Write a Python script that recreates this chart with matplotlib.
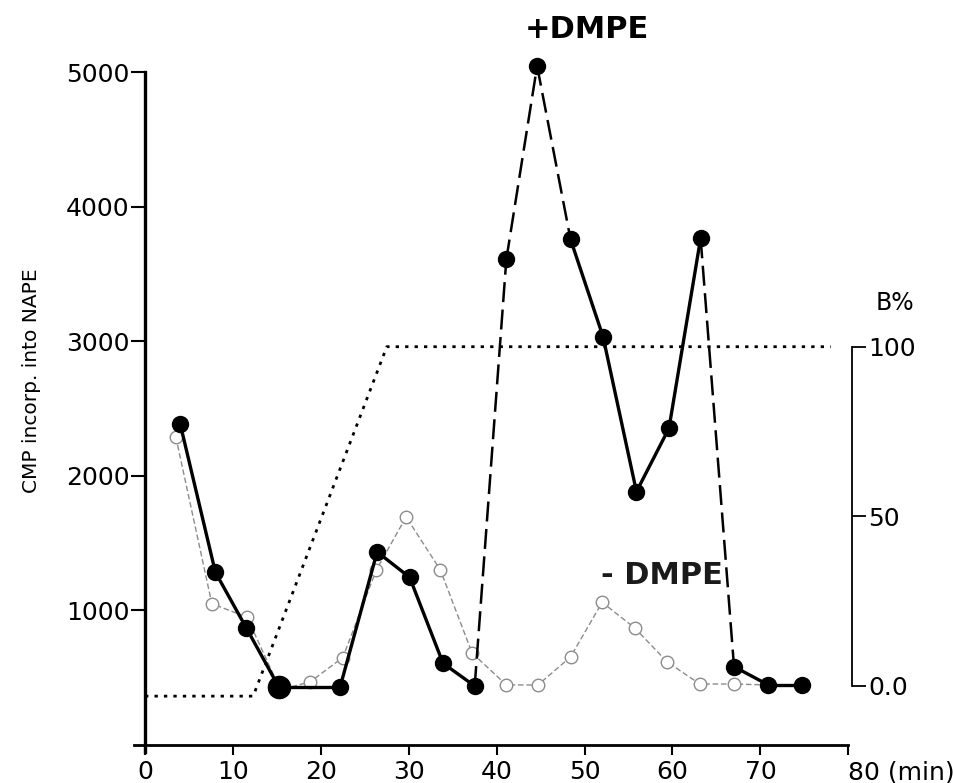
import matplotlib.pyplot as plt

# elution time (min) and CMP incorporated into NAPE
time_plus = [4.0, 8.0, 11.5, 15.2, 22.2, 26.4, 30.1, 33.9, 37.5, 41.1, 44.6,
             48.4, 52.1, 55.9, 59.6, 63.2, 67.0, 70.9, 74.7]
cmp_plus = [2386, 1284, 872, 433, 433, 1435, 1246, 607, 438, 3610, 5047,
            3759, 3035, 1883, 2354, 3766, 582, 446, 446]

time_minus = [3.5, 7.6, 11.6, 15.4, 18.8, 22.5, 26.3, 29.7, 33.6, 37.2, 41.1,
              44.7, 48.4, 52.0, 55.7, 59.4, 63.1, 67.0, 70.9, 74.5]
cmp_minus = [2290, 1050, 950, 409, 470, 650, 1300, 1695, 1300, 684, 446,
             446, 654, 1060, 870, 617, 453, 453, 446, 446]

# solvent B gradient (%)
grad_time = [0, 12.3, 27.5, 78]
grad_b = [-3, -3, 100, 100]

x_ticks = [0, 10, 20, 30, 40, 50, 60, 70, 80]
x_labels = ["0", "10", "20", "30", "40", "50", "60", "70", "80 (min)"]
y_ticks = [1000, 2000, 3000, 4000, 5000]
b_ticks = [0, 50, 100]
b_labels = ["0.0", "50", "100"]

fig = plt.figure(figsize=(9.54, 7.83), dpi=100)
ax = fig.add_axes([134.5 / 954, 0.040, (848.3 - 134.5) / 954, 0.9472])
ax.set_xlim(-1.2, 80)
ax.set_ylim(-50, 5463)

# B% axis, scaled so that 0..100 % sits next to ~440..2960 on the left axis
ax2 = ax.twinx()
ax2.set_ylim(-19.37, 199.24)

# gradient
ax2.plot(grad_time, grad_b, color="black", lw=2, linestyle=(0, (1.2, 2.2)))

# - DMPE (open circles, faint)
ax.plot(time_minus, cmp_minus, color="0.55", lw=1, linestyle=(0, (4, 2)),
        marker="o", markersize=9, markerfacecolor="white",
        markeredgecolor="0.55", markeredgewidth=1, zorder=3)

# + DMPE (filled circles), some segments drawn dashed
dashed = {8, 9, 10, 15}
for i in range(len(time_plus) - 1):
    seg_x = time_plus[i:i + 2]
    seg_y = cmp_plus[i:i + 2]
    if i in dashed:
        ax.plot(seg_x, seg_y, color="black", lw=1.8, linestyle=(0, (8, 3)), zorder=4)
    else:
        ax.plot(seg_x, seg_y, color="black", lw=2.4, zorder=4)
ax.plot(time_plus, cmp_plus, linestyle="none", marker="o", markersize=11.5,
        color="black", zorder=5)
ax.plot(time_plus[3], cmp_plus[3], marker="o", markersize=16, color="black", zorder=5)

# left / bottom axes
for side in ["top", "right"]:
    ax.spines[side].set_visible(False)
ax.spines["left"].set_position(("data", 0))
ax.spines["left"].set_bounds(-50, 5000)
ax.spines["left"].set_linewidth(2.4)
ax.spines["bottom"].set_position(("data", 0))
ax.spines["bottom"].set_linewidth(2)

ax.set_yticks(y_ticks)
ax.tick_params(axis="y", direction="out", length=10, width=1.5, pad=1, labelsize=18)
ax.set_xticks(x_ticks)
ax.set_xticklabels(x_labels)
ax.get_xticklabels()[-1].set_horizontalalignment("left")
ax.tick_params(axis="x", direction="out", length=7, width=1.5, pad=4, labelsize=18)
ax.set_ylabel("CMP incorp. into NAPE", fontsize=14.5, labelpad=18)

# right B% axis
for side in ["top", "left", "bottom"]:
    ax2.spines[side].set_visible(False)
ax2.spines["right"].set_position(("axes", 1.005))
ax2.spines["right"].set_bounds(0, 100)
ax2.spines["right"].set_linewidth(1.3)
ax2.set_yticks(b_ticks)
ax2.set_yticklabels(b_labels)
ax2.tick_params(axis="y", direction="out", length=10, width=1.3, pad=2, labelsize=18)
fig.text(895 / 954, 1 - 303 / 783, "B%", fontsize=17, ha="center", va="center")

# annotations
fig.text(587 / 954, 1 - 30 / 783, "+DMPE", fontsize=22, fontweight="bold",
         ha="center", va="center")
fig.text(662 / 954, 1 - 576 / 783, "- DMPE", fontsize=22, fontweight="bold",
         ha="center", va="center", color="0.1")

plt.savefig("out.png", dpi=100)
